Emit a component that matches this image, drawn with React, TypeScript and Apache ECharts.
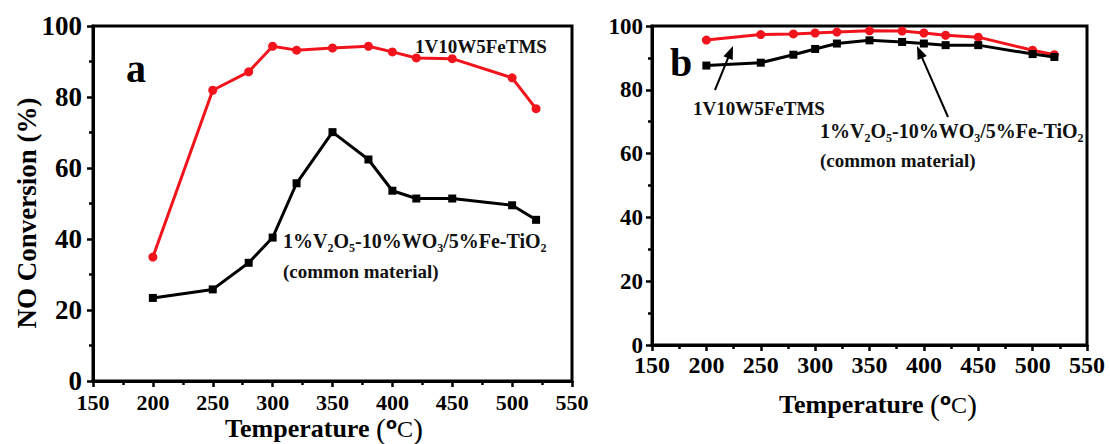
import React, { useEffect, useRef } from 'react';
import * as echarts from 'echarts';

const temperatures = [200, 250, 280, 300, 320, 350, 380, 400, 420, 450, 500, 520];
const tmsA = [34.9, 81.9, 87.1, 94.3, 93.2, 93.8, 94.3, 92.7, 91.0, 90.8, 85.4, 76.7];
const commonA = [23.4, 25.8, 33.3, 40.4, 55.7, 70.1, 62.4, 53.6, 51.4, 51.4, 49.5, 45.4];
const tmsB = [95.6, 97.3, 97.5, 97.8, 98.1, 98.5, 98.4, 97.8, 97.1, 96.5, 92.4, 91.0];
const commonB = [87.6, 88.5, 91.0, 92.8, 94.5, 95.5, 95.0, 94.5, 94.0, 94.0, 91.2, 90.3];

const xRange = [150, 550];
const xStep = 50;
const yRange = [0, 100];
const yStep = 20;

const SERIF = 'Liberation Serif';
const RED = '#f2141c';

const pairs = (ys: number[]) => temperatures.map((t, i) => [t, ys[i]]);

function axisLabel(fontSize: number, margin: number) {
  return { color: '#000', fontFamily: SERIF, fontWeight: 'bold', fontSize, margin };
}

function xAxisCfg(gridIndex: number, fontSize: number, margin: number) {
  return {
    type: 'value',
    gridIndex,
    min: xRange[0],
    max: xRange[1],
    interval: xStep,
    axisLine: { show: true, onZero: false, lineStyle: { color: '#000', width: 3 } },
    axisTick: { show: true, inside: false, length: 6, lineStyle: { color: '#000', width: 2.5 } },
    minorTick: { show: true, splitNumber: 2, length: 4, lineStyle: { color: '#000', width: 2.5 } },
    splitLine: { show: false },
    minorSplitLine: { show: false },
    axisLabel: axisLabel(fontSize, margin),
  };
}

function yAxisCfg(gridIndex: number, fontSize: number, margin: number) {
  return {
    type: 'value',
    gridIndex,
    min: yRange[0],
    max: yRange[1],
    interval: yStep,
    axisLine: { show: true, onZero: false, lineStyle: { color: '#000', width: 3 } },
    axisTick: { show: true, inside: false, length: 6, lineStyle: { color: '#000', width: 2.5 } },
    minorTick: { show: true, splitNumber: 2, length: 4, lineStyle: { color: '#000', width: 2.5 } },
    splitLine: { show: false },
    minorSplitLine: { show: false },
    axisLabel: axisLabel(fontSize, margin),
  };
}

const formulaRich = (fs: number) => ({
  m: { fontFamily: SERIF, fontWeight: 'bold', fontSize: fs, lineHeight: 26, fill: '#111', color: '#111', verticalAlign: 'middle' },
  s: { fontFamily: SERIF, fontWeight: 'bold', fontSize: 12, lineHeight: 12, fill: '#111', color: '#111', verticalAlign: 'bottom' },
});
const formulaText = '{m|1%V}{s|2}{m|O}{s|5}{m|-10%WO}{s|3}{m|/5%Fe-TiO}{s|2}';

const tempRich = (fs: number) => ({
  t: { fontFamily: SERIF, fontWeight: 'bold', fontSize: fs, lineHeight: 26, fill: '#000', color: '#000', verticalAlign: 'middle' },
  p: { fontFamily: SERIF, fontWeight: 'normal', fontSize: fs + 4, lineHeight: 26, fill: '#000', color: '#000', verticalAlign: 'middle' },
  o: { fontFamily: 'DejaVu Sans', fontWeight: 'bold', fontSize: fs - 10, lineHeight: 14, fill: '#000', color: '#000', verticalAlign: 'top' },
  c: { fontFamily: SERIF, fontWeight: 'normal', fontSize: fs - 2, lineHeight: 22, fill: '#000', color: '#000', verticalAlign: 'bottom' },
});
const tempText = '{t|Temperature }{p|(}{o|o}{c|C}{p|)}';

function textEl(x: number, y: number, text: string, extra: any = {}) {
  return {
    type: 'text',
    x,
    y,
    silent: true,
    style: {
      text,
      fill: '#111',
      align: 'left',
      verticalAlign: 'middle',
      textAlign: 'left',
      textVerticalAlign: 'middle',
      ...extra,
    },
  };
}

function arrow(x1: number, y1: number, x2: number, y2: number) {
  const dx = x2 - x1;
  const dy = y2 - y1;
  const len = Math.sqrt(dx * dx + dy * dy);
  const ux = dx / len;
  const uy = dy / len;
  const headLen = 13;
  const headW = 5;
  const bx = x2 - ux * headLen;
  const by = y2 - uy * headLen;
  return [
    {
      type: 'line',
      silent: true,
      shape: { x1, y1, x2: bx + ux * 2, y2: by + uy * 2 },
      style: { stroke: '#000', lineWidth: 2 },
    },
    {
      type: 'polygon',
      silent: true,
      shape: {
        points: [
          [x2, y2],
          [bx - uy * headW, by + ux * headW],
          [bx + uy * headW, by - ux * headW],
        ],
      },
      style: { fill: '#000' },
    },
  ];
}

export default function App() {
  const ref = useRef<HTMLDivElement>(null);

  useEffect(() => {
    document.body.style.margin = '0';
    if (!ref.current) return;
    const chart = echarts.init(ref.current, undefined, { renderer: 'svg' });

    const lineSeries = (name: string, data: number[], idx: number, color: string, symbol: string, size: number) => ({
      type: 'line',
      name,
      xAxisIndex: idx,
      yAxisIndex: idx,
      data: pairs(data),
      symbol,
      symbolSize: size,
      showSymbol: true,
      lineStyle: { color, width: 3 },
      itemStyle: { color, borderWidth: 0 },
      z: color === RED ? 3 : 4,
    });

    chart.setOption({
      animation: false,
      backgroundColor: '#fff',
      textStyle: { fontFamily: SERIF, fontWeight: 'bold' },
      grid: [
        { left: 93, top: 26, width: 479, height: 355, show: true, borderColor: '#000', borderWidth: 3, backgroundColor: 'transparent' },
        { left: 652, top: 26, width: 435, height: 319, show: true, borderColor: '#000', borderWidth: 3, backgroundColor: 'transparent' },
      ],
      xAxis: [xAxisCfg(0, 22, 10), xAxisCfg(1, 24, 8)],
      yAxis: [yAxisCfg(0, 27, 11), yAxisCfg(1, 23, 9)],
      series: [
        lineSeries('1V10W5FeTMS (a)', tmsA, 0, RED, 'circle', 9),
        lineSeries('common material (a)', commonA, 0, '#000', 'rect', 8),
        lineSeries('1V10W5FeTMS (b)', tmsB, 1, RED, 'circle', 9),
        lineSeries('common material (b)', commonB, 1, '#000', 'rect', 8),
      ],
      graphic: [
        {
          type: 'text',
          x: 27,
          y: 213,
          rotation: Math.PI / 2,
          silent: true,
          style: {
            text: 'NO Conversion (%)',
            font: `bold 27px ${SERIF}`,
            fill: '#000',
            align: 'center',
            verticalAlign: 'middle',
            textAlign: 'center',
            textVerticalAlign: 'middle',
          },
        },
        textEl(324, 428, tempText, { rich: tempRich(26), align: 'center', textAlign: 'center' }),
        textEl(878, 404, tempText, { rich: tempRich(26), align: 'center', textAlign: 'center' }),
        textEl(126, 68, 'a', { font: `bold 40px ${SERIF}`, fill: '#000' }),
        textEl(670, 62, 'b', { font: `bold 40px ${SERIF}`, fill: '#000' }),
        textEl(415, 46, '1V10W5FeTMS', { font: `bold 19px ${SERIF}` }),
        textEl(283, 241, formulaText, { rich: formulaRich(20) }),
        textEl(283, 271, '(common material)', { font: `bold 19px ${SERIF}` }),
        textEl(693, 108, '1V10W5FeTMS', { font: `bold 19px ${SERIF}` }),
        textEl(820, 131, formulaText, { rich: formulaRich(20) }),
        textEl(820, 160, '(common material)', { font: `bold 19px ${SERIF}` }),
        ...arrow(715, 90, 733, 46),
        ...arrow(948, 117, 917, 46),
      ],
    });

    return () => chart.dispose();
  }, []);

  return <div ref={ref} style={{ width: 1110, height: 444 }} />;
}
